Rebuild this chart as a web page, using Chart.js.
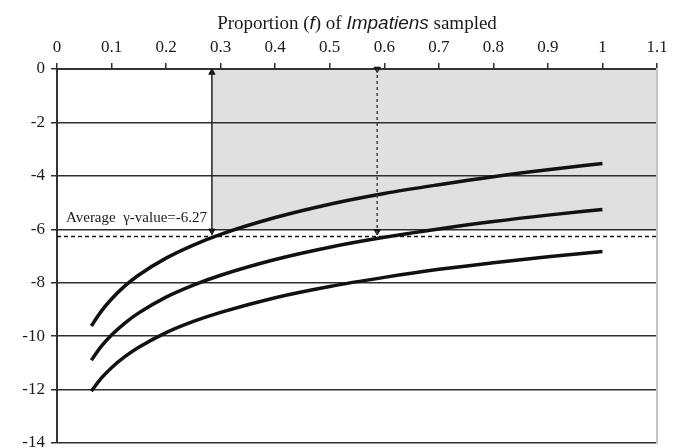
<!DOCTYPE html>
<html>
<head>
<meta charset="utf-8">
<title>Proportion of Impatiens sampled</title>
<script src="https://cdn.jsdelivr.net/npm/chart.js@4.4.1/dist/chart.umd.min.js"></script>
<style>
  html, body { margin: 0; padding: 0; background: #fff; }
  #wrap { width: 683px; height: 448px; }
</style>
</head>
<body>
<div id="wrap"><canvas id="chart"></canvas></div>
<script>
  // values
  const fValues = [0.063, 0.08, 0.1, 0.125, 0.15, 0.2, 0.25, 0.3, 0.4, 0.5, 0.6, 0.7, 0.8, 0.9, 1.0];
  const upperCurve = [-9.62, -9.10, -8.61, -8.11, -7.71, -7.08, -6.59, -6.19, -5.56, -5.06, -4.66, -4.33, -4.03, -3.77, -3.54];
  const middleCurve = [-10.90, -10.41, -9.96, -9.50, -9.13, -8.54, -8.09, -7.72, -7.13, -6.67, -6.30, -5.99, -5.71, -5.47, -5.26];
  const lowerCurve = [-12.06, -11.60, -11.18, -10.76, -10.42, -9.87, -9.45, -9.11, -8.56, -8.14, -7.80, -7.50, -7.25, -7.03, -6.83];

  const averageGamma = -6.27;
  const shadeFrom = 0.284;
  const shadeLevel = -6;
  const solidArrowF = 0.284;
  const dottedArrowF = 0.587;
  const arrowTipLow = -6.2;

  const xTickLabels = ['0', '0.1', '0.2', '0.3', '0.4', '0.5', '0.6', '0.7', '0.8', '0.9', '1', '1.1'];
  const yTickLabels = ['-14', '-12', '-10', '-8', '-6', '-4', '-2', '0'];

  const serif = "'Liberation Serif', 'DejaVu Serif', serif";
  const sans = "'Liberation Sans', Arial, sans-serif";
  const ink = '#1a1a1a';
  const gridColor = '#2e2e2e';

  function toPoints(xs, ys) {
    return xs.map(function (x, i) { return { x: x, y: ys[i] }; });
  }

  function curve(values) {
    return {
      data: toPoints(fValues, values),
      borderColor: '#111',
      borderWidth: 3.5,
      cubicInterpolationMode: 'monotone',
      pointRadius: 0,
      fill: false
    };
  }

  // title with mixed roman / italic sans runs
  const titlePlugin = {
    id: 'mixedTitle',
    afterDraw(chart) {
      const ctx = chart.ctx;
      const parts = [
        { t: 'Proportion (', f: '19px ' + serif },
        { t: 'f', f: 'italic 19px ' + sans },
        { t: ') of ', f: '19px ' + serif },
        { t: 'Impatiens', f: 'italic 19px ' + sans },
        { t: ' sampled', f: '19px ' + serif }
      ];
      ctx.save();
      let total = 0;
      parts.forEach(function (p) { ctx.font = p.f; p.w = ctx.measureText(p.t).width; total += p.w; });
      const area = chart.chartArea;
      let x = (area.left + area.right) / 2 - total / 2;
      ctx.fillStyle = ink;
      ctx.textBaseline = 'alphabetic';
      ctx.textAlign = 'left';
      parts.forEach(function (p) { ctx.font = p.f; ctx.fillText(p.t, x, 29); x += p.w; });

      // average label
      const xs = chart.scales.x, ys = chart.scales.y;
      ctx.font = '15px ' + serif;
      ctx.fillText('Average  \u03b3-value=' + averageGamma, xs.getPixelForValue(0) + 9, ys.getPixelForValue(shadeLevel) - 7);
      ctx.restore();
    }
  };

  new Chart(document.getElementById('chart'), {
    type: 'line',
    data: {
      datasets: [
        {
          // shaded box, drawn beneath the grid
          data: toPoints([shadeFrom, 1.1], [shadeLevel, shadeLevel]),
          borderColor: 'transparent',
          borderWidth: 0,
          backgroundColor: '#e0e0e0',
          pointRadius: 0,
          fill: 'end'
        },
        {
          data: toPoints([0, 1.1], [averageGamma, averageGamma]),
          borderColor: '#111',
          borderWidth: 1.6,
          borderDash: [4, 3],
          pointRadius: 0,
          fill: false
        },
        {
          data: toPoints([solidArrowF, solidArrowF], [0, arrowTipLow]),
          borderColor: '#222',
          borderWidth: 1.5,
          pointRadius: 0,
          fill: false,
          clip: false
        },
        {
          data: toPoints([dottedArrowF, dottedArrowF], [0, arrowTipLow]),
          borderColor: '#444',
          borderWidth: 1.5,
          borderDash: [3, 3],
          pointRadius: 0,
          fill: false,
          clip: false
        },
        {
          // arrowheads
          data: toPoints([solidArrowF, solidArrowF, dottedArrowF, dottedArrowF], [-0.13, -6.06, 0, -6.08]),
          showLine: false,
          pointStyle: 'triangle',
          pointRadius: 3.6,
          pointRotation: [0, 180, 180, 180],
          pointBackgroundColor: '#111',
          pointBorderColor: '#111',
          pointBorderWidth: 1,
          clip: false
        },
        curve(upperCurve),
        curve(middleCurve),
        curve(lowerCurve)
      ]
    },
    options: {
      responsive: true,
      maintainAspectRatio: false,
      animation: false,
      layout: { padding: { top: 30, right: 26, bottom: 5, left: 0 } },
      plugins: {
        legend: { display: false },
        tooltip: { enabled: false },
        filler: { drawTime: 'beforeDraw' }
      },
      scales: {
        x: {
          type: 'linear',
          position: 'top',
          min: 0,
          max: 1.1,
          afterFit(scale) { scale.height = 39; scale.paddingLeft = 0; scale.paddingRight = 0; },
          ticks: {
            stepSize: 0.1,
            padding: 5,
            color: ink,
            font: { family: serif, size: 17 },
            callback: function (v, i) { return xTickLabels[i]; }
          },
          grid: { drawOnChartArea: false, tickLength: 6, color: gridColor, lineWidth: 1.5 },
          border: { color: '#333', width: 2 }
        },
        y: {
          type: 'linear',
          min: -14,
          max: 0,
          afterFit(scale) { scale.width = 57; scale.paddingTop = 0; scale.paddingBottom = 0; },
          ticks: {
            stepSize: 2,
            padding: 6,
            color: ink,
            font: { family: serif, size: 17 },
            callback: function (v, i) { return yTickLabels[i]; }
          },
          grid: { tickLength: 6, color: gridColor, lineWidth: 1.5 },
          border: { color: '#333', width: 2 }
        },
        yRight: {
          type: 'linear',
          position: 'right',
          min: -14,
          max: 0,
          afterFit(scale) { scale.width = 0; },
          ticks: { display: false },
          grid: { display: false },
          border: { color: '#c4c4c4', width: 2 }
        }
      }
    },
    plugins: [titlePlugin]
  });
</script>
</body>
</html>
